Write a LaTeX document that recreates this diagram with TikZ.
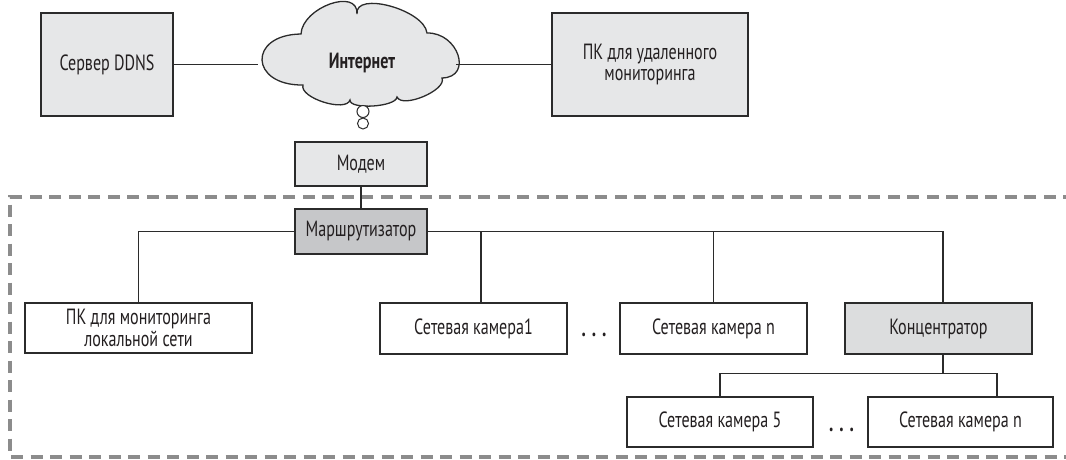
\documentclass[tikz,border=0pt]{standalone}
\usepackage{fontspec}
\setmainfont{PT Sans}[FakeStretch=0.73]
\definecolor{lightfill}{HTML}{E6E7E8}
\definecolor{routerfill}{HTML}{C6C7C9}
\definecolor{hubfill}{HTML}{DCDDDE}
\definecolor{boxline}{HTML}{2B2B2B}
\definecolor{dashcol}{HTML}{8C8C8C}
\definecolor{txt}{HTML}{231F20}
\tikzset{
  box/.style={draw=boxline, line width=1.3pt, text=txt, inner sep=0pt, align=center,
    font=\fontsize{22}{21.5}\selectfont, fill=white},
  lightbox/.style={box, fill=lightfill},
  routerbox/.style={box, fill=routerfill},
  hubbox/.style={box, fill=hubfill},
  wire/.style={draw=boxline, line width=1.1pt},
  border/.style={draw=dashcol, line width=3.5pt, dash pattern=on 12pt off 7.5pt},
  dotsnode/.style={text=txt, font=\fontsize{24}{24}\selectfont\bfseries, inner sep=0pt, anchor=base},
  bubble/.style={circle, draw=boxline, line width=1pt, fill=white, inner sep=0pt}
}
\begin{document}
\begin{tikzpicture}[x=1pt,y=-1pt]
\useasboundingbox (0,0) rectangle (1066,460);

% dashed boundary of local network
\draw[border] (1075,197) -- (10,197) -- (10,457) -- (1075,457);

% cloud
\draw[fill=lightfill, draw=boxline, line width=1.3pt]
  (303,85) .. controls (249.7,85.7) and (247.7,34.7) .. (301,34)
  .. controls (302.3,7.3) and (358.3,-12.7) .. (357,14)
  .. controls (354.3,-9.3) and (424.3,9.7) .. (427,33)
  .. controls (458.3,32.3) and (473.3,77.3) .. (442,78)
  .. controls (447.3,90) and (402.3,109) .. (397,97)
  .. controls (396.3,107) and (349.3,110) .. (350,100)
  .. controls (346,112.8) and (299,97.8) .. (303,85) -- cycle;
\node[text=txt, font=\fontsize{22}{22}\selectfont\bfseries] (inet) at (362,63) {Интернет};
\coordinate (cloudL) at (258,64.5);
\coordinate (cloudR) at (456,64.5);
\node[bubble, minimum size=12pt] (bub1) at (363,111.5) {};
\node[bubble, minimum size=11pt] (bub2) at (363,123.5) {};

% top row
\node[lightbox, minimum width=132pt, minimum height=103pt] (ddns) at (107,64.5) {Сервер DDNS};
\node[lightbox, minimum width=196pt, minimum height=103pt] (pcr) at (650,64.5) {ПК для удаленного\\мониторинга};
\node[lightbox, minimum width=132pt, minimum height=44pt] (modem) at (361,164) {Модем};
\node[routerbox, minimum width=132pt, minimum height=45pt] (router) at (361,231.5) {Маршрутизатор};

% second row
\node[box, minimum width=227pt, minimum height=50pt] (pcl) at (138.5,328) {ПК для мониторинга\\локальной сети};
\node[box, minimum width=187pt, minimum height=51pt] (cam1) at (473.5,328.5) {Сетевая камера1};
\node[box, minimum width=187pt, minimum height=51pt] (camn) at (713.5,328.5) {Сетевая камера n};
\node[hubbox, minimum width=187pt, minimum height=51pt] (hub) at (938.5,328.5) {Концентратор};
\node[dotsnode] (dots1) at (594,336) {.\hspace{6pt}.\hspace{6pt}.};

% third row
\node[box, minimum width=186pt, minimum height=50pt] (cam5) at (720,422) {Сетевая камера 5};
\node[box, minimum width=185pt, minimum height=50pt] (camn2) at (960.5,422) {Сетевая камера n};
\node[dotsnode] (dots2) at (841.5,431) {.\hspace{6pt}.\hspace{6pt}.};

% connectors
\draw[wire] (ddns.east) -- (cloudL);
\draw[wire] (cloudR) -- (pcr.west);
\draw[wire] (modem.south) -- (router.north);

\coordinate (c1top) at ([xshift=7.5pt]cam1.north);
\coordinate (hubtop) at ([xshift=4.5pt]hub.north);
\coordinate (hubbot) at ([xshift=4.5pt]hub.south);
\coordinate (hubjoin) at ([yshift=-19pt]hubbot);
\coordinate (cn2top) at ([xshift=36.5pt]camn2.north);

\draw[wire] (pcl.north) |- (router.west);
\draw[wire] (router.east) -| (hubtop);
\draw[wire] (c1top) -- (c1top |- router.east);
\draw[wire] (camn.north) -- (camn.north |- router.east);
\draw[wire] (hubbot) -- (hubjoin);
\draw[wire] (cam5.north) |- (hubjoin) -| (cn2top);
\end{tikzpicture}
\end{document}
